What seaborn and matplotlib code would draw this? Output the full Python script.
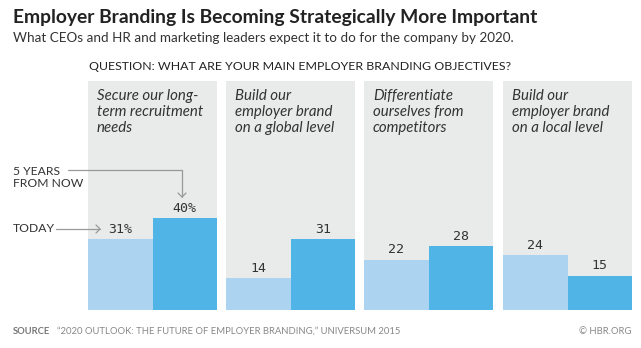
import matplotlib
matplotlib.use("Agg")
import matplotlib.pyplot as plt
import seaborn as sns
import pandas as pd

categories = [
    "Secure our long-\nterm recruitment\nneeds",
    "Build our\nemployer brand\non a global level",
    "Differentiate\nourselves from\ncompetitors",
    "Build our\nemployer brand\non a local level",
]
periods = ["Today", "5 years from now"]
today_values = [31, 14, 22, 24]
future_values = [40, 31, 28, 15]

rows = []
for i, c in enumerate(categories):
    rows.append({"cat": i, "period": periods[0], "value": today_values[i]})
    rows.append({"cat": i, "period": periods[1], "value": future_values[i]})
df = pd.DataFrame(rows)

sns.set_style("white")
plt.rcParams["font.family"] = ["Lato", "DejaVu Sans"]

W, H = 641, 348
fig = plt.figure(figsize=(W / 100, H / 100), dpi=100)

light = "#acd4f1"
dark = "#50b4e6"
bg = "#e9eaea"

panel_x = [88, 226, 364, 503]
pw = 129
top_px, bot_px = 81, 310

def fx(px):
    return px / W

def fy(py):
    return 1 - py / H

for i in range(4):
    ax = fig.add_axes([fx(panel_x[i]), fy(bot_px), pw / W, (bot_px - top_px) / H])
    ax.set_facecolor(bg)
    sub = df[df["cat"] == i]
    sns.barplot(data=sub, x="period", y="value", hue="period", order=periods,
                hue_order=periods, palette=[light, dark], width=1.0, legend=False,
                ax=ax, saturation=1, errorbar=None, linewidth=0)
    ax.set_xlim(-0.5, 1.5)
    ax.set_ylim(0, 100)
    ax.set_xticks([])
    ax.set_yticks([])
    ax.set_xlabel("")
    ax.set_ylabel("")
    for s in ax.spines.values():
        s.set_visible(False)
    vals = [today_values[i], future_values[i]]
    for j, v in enumerate(vals):
        lab = f"{v}%" if i == 0 else f"{v}"
        ax.text(j, v + 4.3, lab, ha="center", va="center", fontsize=9.5,
                family=["DejaVu Sans Mono"], color="#333333")
    ax.text(0.07, 0.966, categories[i], transform=ax.transAxes, ha="left", va="top",
            fontsize=10.8, style="italic", color="#333333", linespacing=1.2)

# Titles
fig.text(fx(13), fy(17), "Employer Branding Is Becoming Strategically More Important",
         fontsize=13.85, fontweight="bold", color="#222222", va="center", ha="left")
fig.text(fx(13), fy(38), "What CEOs and HR and marketing leaders expect it to do for the company by 2020.",
         fontsize=9.7, color="#333333", va="center", ha="left")
fig.text(fx(89), fy(66), "QUESTION: WHAT ARE YOUR MAIN EMPLOYER BRANDING OBJECTIVES?",
         fontsize=8.95, color="#222222", va="center", ha="left")

# Annotations
fig.text(fx(13), fy(177.5), "5 YEARS\nFROM NOW", fontsize=8.7, color="#333333",
         va="center", ha="left", linespacing=1.15)
fig.text(fx(13), fy(229), "TODAY", fontsize=8.7, color="#333333", va="center", ha="left")

arrow_color = "#999999"
fig.add_artist(plt.Line2D([fx(68), fx(182)], [fy(170), fy(170)], color=arrow_color, lw=0.9))
fig.add_artist(plt.Line2D([fx(182), fx(182)], [fy(170), fy(197)], color=arrow_color, lw=0.9))
fig.add_artist(plt.Line2D([fx(178), fx(182), fx(186)], [fy(193), fy(197), fy(193)], color=arrow_color, lw=0.9))
fig.add_artist(plt.Line2D([fx(56), fx(100)], [fy(229), fy(229)], color=arrow_color, lw=0.9))
fig.add_artist(plt.Line2D([fx(96), fx(100), fx(96)], [fy(225), fy(229), fy(233)], color=arrow_color, lw=0.9))

# Source
fig.text(fx(13), fy(331), "SOURCE", fontsize=6.8, fontweight="bold", color="#777777", va="center", ha="left")
fig.text(fx(57), fy(331), "\u201c2020 OUTLOOK: THE FUTURE OF EMPLOYER BRANDING,\u201d UNIVERSUM 2015",
         fontsize=6.8, color="#888888", va="center", ha="left")
fig.text(fx(631), fy(331), "\u00a9 HBR.ORG", fontsize=6.8, color="#888888", va="center", ha="right")

fig.savefig("out.png", dpi=100, facecolor="white")
